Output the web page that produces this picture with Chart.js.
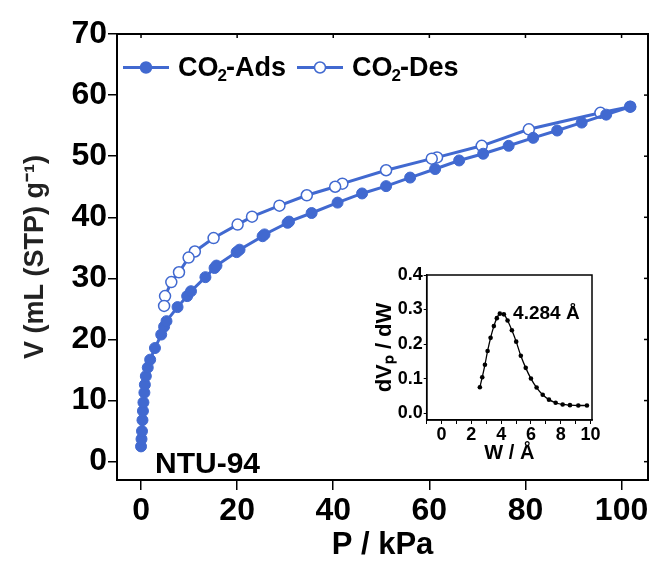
<!DOCTYPE html>
<html><head><meta charset="utf-8">
<script src="https://cdn.jsdelivr.net/npm/chart.js@4.4.0/dist/chart.umd.min.js"></script>
<style>
html,body{margin:0;padding:0;background:#fff;}
#wrap{position:relative;width:655px;height:565px;overflow:hidden;}
#main{position:absolute;left:0;top:0;}
#inset{position:absolute;left:370px;top:250px;}
</style></head><body>
<div id="wrap"><canvas id="main" width="655" height="565"></canvas><canvas id="inset" width="240" height="230"></canvas></div>
<script>
// ---- data ----
const adsP = [0.0,0.1,0.2,0.3,0.4,0.5,0.7,0.8,1.0,1.4,1.9,2.9,4.2,4.8,5.3,7.6,9.6,10.4,13.4,15.3,15.7,19.9,20.5,25.3,25.7,30.5,30.8,35.5,40.9,46.0,51.0,56.0,61.2,66.2,71.2,76.5,81.6,86.6,91.7,96.8,101.8];
const adsV = [2.5,3.7,5.0,6.8,8.3,9.7,11.3,12.6,14.0,15.4,16.7,18.6,20.8,22.1,23.0,25.3,27.1,27.9,30.2,31.7,32.1,34.3,34.7,36.9,37.2,39.1,39.3,40.7,42.4,43.9,45.1,46.5,47.9,49.3,50.4,51.7,53.0,54.2,55.5,56.8,58.1];
const desP = [101.8,95.6,80.7,70.9,61.6,60.5,51.0,41.9,40.4,34.5,28.8,23.1,20.1,15.1,11.2,9.9,7.9,6.3,5.0,4.8];
const desV = [58.1,57.1,54.4,51.7,49.8,49.6,47.7,45.5,45.0,43.6,41.9,40.1,38.8,36.6,34.4,33.4,31.0,29.4,27.1,25.5];
const poreW  = [2.57,2.73,2.91,3.09,3.29,3.51,3.71,3.91,4.18,4.43,4.72,5.01,5.32,5.65,6.00,6.38,6.79,7.21,7.66,8.13,8.62,9.18,9.76];
const poreDV = [0.075,0.104,0.140,0.180,0.218,0.252,0.275,0.288,0.286,0.268,0.240,0.207,0.166,0.131,0.100,0.074,0.053,0.039,0.030,0.025,0.023,0.022,0.022];
const seriesLabels = ['CO₂-Ads','CO₂-Des'];
const sampleName = 'NTU-94';
const peakLabel = '4.284 Å';

const BLUE = '#4169d0';
const FAM = "'Liberation Sans', Arial, sans-serif";
Chart.defaults.font.family = FAM;
Chart.defaults.color = '#000';

function drawSubLabel(ctx, text, x, y, size) {
  const parts = text.split('₂');
  ctx.textBaseline = 'alphabetic';
  ctx.textAlign = 'left';
  let cx = x;
  parts.forEach((p, i) => {
    ctx.font = `bold ${size}px ${FAM}`;
    ctx.fillText(p, cx, y);
    cx += ctx.measureText(p).width;
    if (i < parts.length - 1) {
      ctx.font = `bold ${Math.round(size*0.62)}px ${FAM}`;
      ctx.fillText('2', cx - 1, y + size*0.2);
      cx += ctx.measureText('2').width - 2;
    }
  });
}

const mainDecor = {
  id: 'mainDecor',
  afterDraw(chart) {
    const {ctx, chartArea: a, scales} = chart;
    ctx.save();
    ctx.strokeStyle = '#000';
    ctx.lineWidth = 2;
    ctx.strokeRect(a.left, a.top, a.right - a.left, a.bottom - a.top);
    ctx.lineWidth = 1.5;
    [0,20,40,60,80,100].forEach(v => {
      const px = scales.x.getPixelForValue(v);
      ctx.beginPath(); ctx.moveTo(px, a.top); ctx.lineTo(px, a.top + 4); ctx.stroke();
    });
    [0,10,20,30,40,50,60,70].forEach(v => {
      const py = scales.y.getPixelForValue(v);
      ctx.beginPath(); ctx.moveTo(a.right, py); ctx.lineTo(a.right - 4, py); ctx.stroke();
    });
    // legend
    const ds = chart.data.datasets;
    const items = [{x0: 123, tx: 178}, {x0: 297, tx: 352}];
    const ly = 67.5;
    items.forEach((it, i) => {
      const d = ds[i];
      ctx.strokeStyle = d.borderColor; ctx.lineWidth = 3;
      ctx.beginPath(); ctx.moveTo(it.x0, ly); ctx.lineTo(it.x0 + 46, ly); ctx.stroke();
      ctx.beginPath(); ctx.arc(it.x0 + 23, ly, 5.5, 0, Math.PI*2);
      ctx.fillStyle = d.pointBackgroundColor; ctx.fill();
      ctx.lineWidth = 1.5; ctx.strokeStyle = d.pointBorderColor; ctx.stroke();
      ctx.fillStyle = '#000';
      drawSubLabel(ctx, d.label, it.tx, 76, 27);
    });
    ctx.fillStyle = '#000';
    ctx.font = `bold 30px ${FAM}`;
    ctx.textAlign = 'left'; ctx.textBaseline = 'alphabetic';
    ctx.fillText(sampleName, 155, 473);
    ctx.restore();
  }
};

new Chart(document.getElementById('main'), {
  type: 'line',
  data: {
    datasets: [
      { label: seriesLabels[0], data: adsP.map((p, i) => ({x: p, y: adsV[i]})),
        borderColor: BLUE, backgroundColor: BLUE, borderWidth: 3,
        pointRadius: 5.5, pointBackgroundColor: BLUE, pointBorderColor: BLUE, pointBorderWidth: 1, order: 0 },
      { label: seriesLabels[1], data: desP.map((p, i) => ({x: p, y: desV[i]})),
        borderColor: BLUE, backgroundColor: '#fff', borderWidth: 3,
        pointRadius: 5.5, pointBackgroundColor: '#fff', pointBorderColor: BLUE, pointBorderWidth: 1.5, order: 1 }
    ]
  },
  options: {
    responsive: false, animation: false,
    layout: {padding: {top: 34, right: 4, left: 0, bottom: 0}},
    plugins: {legend: {display: false}, tooltip: {enabled: false}},
    scales: {
      x: {
        type: 'linear', min: -5, max: 105.5,
        afterFit(s) { s.height = 85; },
        ticks: {stepSize: 20, includeBounds: false, maxRotation: 0, padding: 2,
          font: {size: 32, weight: 'bold'}, color: '#000'},
        grid: {drawOnChartArea: false, drawTicks: true, tickLength: 10, color: '#000', lineWidth: 1.5},
        border: {display: true, color: '#000', width: 2},
        title: {display: true, text: 'P / kPa', color: '#000', font: {size: 31, weight: 'bold'}, padding: {top: 0, bottom: 1}}
      },
      y: {
        type: 'linear', min: -3, max: 70,
        afterFit(s) { s.width = 117; },
        ticks: {stepSize: 10, includeBounds: false, padding: 1,
          font: {size: 32, weight: 'bold'}, color: '#000'},
        grid: {drawOnChartArea: false, drawTicks: true, tickLength: 9, color: '#000', lineWidth: 1.5},
        border: {display: true, color: '#000', width: 2},
        title: {display: true, text: 'V (mL (STP) g⁻¹)', color: '#222', font: {size: 27, weight: 'bold'}, padding: {top: 19, bottom: 0}}
      }
    }
  },
  plugins: [mainDecor]
});

const insetDecor = {
  id: 'insetDecor',
  afterDraw(chart) {
    const {ctx, chartArea: a, scales} = chart;
    ctx.save();
    ctx.strokeStyle = '#000'; ctx.lineWidth = 1.5;
    ctx.strokeRect(a.left, a.top, a.right - a.left, a.bottom - a.top);
    ctx.fillStyle = '#000';
    ctx.font = `bold 19px ${FAM}`;
    ctx.textAlign = 'left'; ctx.textBaseline = 'alphabetic';
    ctx.fillText(peakLabel, scales.x.getPixelForValue(4.8), scales.y.getPixelForValue(0.272));
    ctx.restore();
  }
};

new Chart(document.getElementById('inset'), {
  type: 'line',
  data: {
    datasets: [{ label: 'PSD', data: poreW.map((w, i) => ({x: w, y: poreDV[i]})),
      borderColor: '#000', backgroundColor: '#000', borderWidth: 1.3,
      pointRadius: 2.3, pointBackgroundColor: '#000', pointBorderColor: '#000', pointBorderWidth: 0,
      cubicInterpolationMode: 'monotone' }]
  },
  options: {
    responsive: false, animation: false,
    layout: {padding: {top: 25, right: 18, left: 0, bottom: 0}},
    plugins: {legend: {display: false}, tooltip: {enabled: false}},
    scales: {
      x: {
        type: 'linear', min: -1, max: 10.1,
        afterFit(s) { s.height = 60; },
        ticks: {stepSize: 1, includeBounds: false, autoSkip: false, maxRotation: 0, padding: 0,
          callback: v => (v % 2 === 0 ? String(v) : ''), font: {size: 18, weight: 'bold'}, color: '#000'},
        grid: {drawOnChartArea: false, tickLength: 4, color: '#000', lineWidth: 1},
        border: {display: true, color: '#000', width: 1.5},
        title: {display: true, text: 'W / Å', color: '#000', font: {size: 20, weight: 'bold'}, padding: {top: 0, bottom: 15}}
      },
      y: {
        type: 'linear', min: -0.02, max: 0.4,
        afterFit(s) { s.width = 56.7; },
        ticks: {stepSize: 0.1, includeBounds: false, padding: 1,
          callback: v => v.toFixed(1), font: {size: 18, weight: 'bold'}, color: '#000'},
        grid: {drawOnChartArea: false, tickLength: 3, color: '#000', lineWidth: 1},
        border: {display: true, color: '#000', width: 1.5},
        title: {display: true, text: 'dVₚ / dW', color: '#000', font: {size: 22, weight: 'bold'}, padding: {top: 2, bottom: 0}}
      }
    }
  },
  plugins: [insetDecor]
});
</script>
</body></html>
